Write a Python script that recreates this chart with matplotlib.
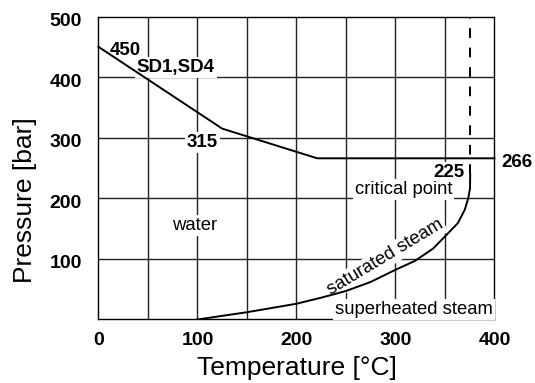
import matplotlib
matplotlib.use("Agg")
import matplotlib.pyplot as plt
import matplotlib.transforms as mtransforms

plt.rcParams['font.family'] = ['Liberation Sans', 'DejaVu Sans']

# Limit line (SD1, SD4)
limit_T = [0, 125, 221, 400]
limit_P = [450, 315, 266, 266]

# Saturated steam curve
sat_T = [100, 125, 150, 175, 200, 225, 250, 275, 300, 320, 338, 350, 363, 370, 373.5, 375.3, 375.5]
sat_P = [0, 6, 12, 19, 26, 36, 47, 62, 82, 97, 117, 137, 159, 181, 200, 216, 240]

# Critical temperature (dashed)
crit_T = 375.5
crit_P_range = [240, 500]

x_ticks = [0, 100, 200, 300, 400]
y_ticks = [100, 200, 300, 400, 500]
x_grid = [50, 100, 150, 200, 250, 300, 350]
y_grid = [100, 200, 300, 400]

fig = plt.figure(figsize=(5.35, 3.83), dpi=100)
ax = fig.add_axes([0.184, 0.1658, 0.7402, 0.7911])
ax.set_xlim(0, 400)
ax.set_ylim(0, 500)

for g in x_grid:
    ax.axvline(g, color='#222222', lw=1.0, zorder=0)
for g in y_grid:
    ax.axhline(g, color='#222222', lw=1.0, zorder=0)

ax.plot(limit_T, limit_P, color='black', lw=1.4, zorder=4, clip_on=False)
ax.plot(sat_T, sat_P, color='black', lw=1.4, zorder=4)
ax.plot([crit_T, crit_T], crit_P_range, color='black', lw=1.4,
        dashes=(5, 5), zorder=4)

ax.set_xticks(x_ticks)
ax.set_yticks(y_ticks)
ax.tick_params(length=0, labelsize=14)
ax.tick_params(axis='x', pad=9)
ax.tick_params(axis='y', pad=12)
shift = mtransforms.ScaledTranslation(0, -3 / 100, fig.dpi_scale_trans)
for lab in ax.get_xticklabels() + ax.get_yticklabels():
    lab.set_fontweight('bold')
for lab in ax.get_yticklabels():
    lab.set_transform(lab.get_transform() + shift)

for s in ax.spines.values():
    s.set_color('black')
    s.set_linewidth(1.0)

ax.set_xlabel('Temperature [°C]', fontsize=19)
ax.set_ylabel('Pressure [bar]', fontsize=19)
ax.xaxis.set_label_coords(0.5, -0.12)
ax.yaxis.set_label_coords(-0.155, 0.394)

box = dict(facecolor='white', edgecolor='none', boxstyle='square,pad=0.1')
bold = dict(fontsize=13.5, fontweight='bold', va='baseline', zorder=3, bbox=box)
reg = dict(fontsize=13.3, va='baseline', zorder=3, bbox=box)

ax.text(11, 436, '450', ha='left', **bold)
ax.text(38.6, 409, 'SD1,SD4', ha='left', **bold)
ax.text(104.7, 285, '315', ha='center', **bold)
ax.text(407, 252, '266', ha='left', clip_on=False, **bold)
ax.text(370, 235.6, '225', ha='right', **bold)
ax.text(259, 207, 'critical point', ha='left', **reg)
ax.text(74, 147.7, 'water', ha='left', **reg)
ax.text(239, 9, 'superheated steam', ha='left', **reg)
ax.text(292, 96, 'saturated steam', ha='center', rotation=31,
        rotation_mode='anchor', **reg)

fig.savefig('out.png', dpi=100)
